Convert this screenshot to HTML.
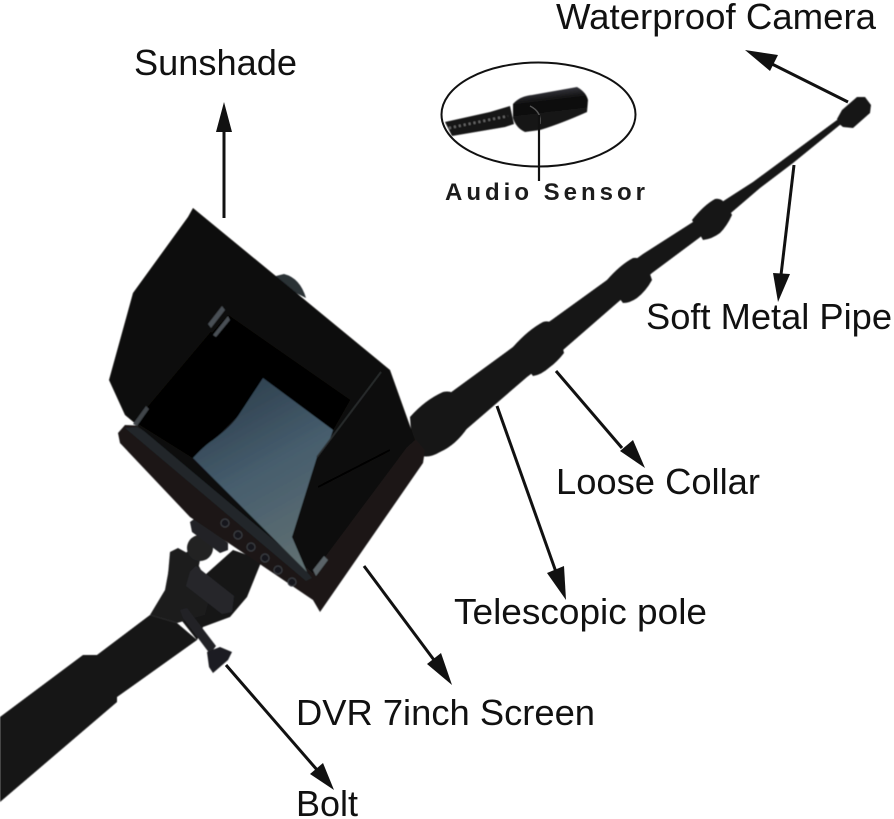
<!DOCTYPE html>
<html><head><meta charset="utf-8"><style>
html,body{margin:0;padding:0;background:#fff}
svg{display:block}
text{font-family:"Liberation Sans",sans-serif;font-size:36px;fill:#111}
</style></head><body>
<svg width="894" height="819" viewBox="0 0 894 819" xmlns="http://www.w3.org/2000/svg">
<defs>
<linearGradient id="scr" x1="0.2" y1="0" x2="0.6" y2="1">
<stop offset="0" stop-color="#2b3c4a"/><stop offset="0.5" stop-color="#465d6d"/><stop offset="1" stop-color="#5f6f72"/>
</linearGradient>
<linearGradient id="cam" x1="0.2" y1="0" x2="0.4" y2="1">
<stop offset="0" stop-color="#4a4a55"/><stop offset="0.35" stop-color="#0e0e0e"/><stop offset="1" stop-color="#181818"/>
</linearGradient>
<filter id="soft" x="-5%" y="-5%" width="110%" height="110%"><feGaussianBlur stdDeviation="0.5"/></filter>
</defs>
<rect width="894" height="819" fill="#fff"/>

<g filter="url(#soft)">
<!-- telescopic pole, continuous -->
<path d="M420 415 L513 347 L553 319 L607 280 L643 254 L693 222 L725 200 L753 182 L837 120 L841 124 L793 163 L760 188 L732 212 L699 238 L652 273 L617 303 L563 350 L527 377 L440 452Z" fill="#121212"/>
<!-- collars -->
<path d="M410 417 Q425 400 443 392 Q452 390 456 396 Q465 410 468 427 Q456 445 440 452 Q430 458 422 456 L412 445Z" fill="#181818"/>
<path d="M513 347 Q528 330 543 322 Q550 320 554 325 Q561 338 564 353 Q557 362 550 367 Q541 375 533 376 Q522 362 513 347Z" fill="#171717"/>
<path d="M607 280 Q620 265 633 258 Q640 257 644 262 Q649 270 652 280 Q646 291 637 298 Q630 303 623 303 Q614 292 607 280Z" fill="#171717"/>
<path d="M692 220 Q704 205 715 199 Q720 198 724 202 Q729 208 732 215 Q727 226 720 233 Q712 239 703 240 Q697 230 692 220Z" fill="#161616"/>
<!-- camera head -->
<path d="M837 119 L842 110 L857 97 L865 97 L871 105 L870 113 L853 128 L843 127 L838 123Z" fill="#171717"/>

<!-- back knob -->
<path d="M272 277 L284 274 Q300 278 306 298 L290 290Z" fill="#2b3036"/>

<!-- lower handle and mount -->
<path d="M205 575 L233 550 L262 560 L247 597 L230 617 L203 627 L197 640 L175 612Z" fill="#171717"/>
<path d="M0 717 L83 655 L97 655 L150 615 L177 623 L197 640 L117 697 L117 702 L0 802Z" fill="#121212"/>
<path d="M150 615 L165 590 L170 563 L190 550 L212 590 L205 615 L177 623Z" fill="#1a1a1c"/>
<path d="M170 552 L178 548 L200 560 L196 580 L178 592 L168 575Z" fill="#1c1d1f"/>
<path d="M190 572 L196 566 L234 596 L232 612 L222 614 L186 586Z" fill="#26282c"/>
<circle cx="200" cy="548" r="13" fill="#202224"/>
<path d="M180 610 L187 608 L216 646 L210 654 L183 618Z" fill="#232427"/>
<path d="M220 647 L232 652 L228 660 L213 673 L209 667 L207 652 L212 650Z" fill="#1e1f21"/>
<path d="M190 522 L197 517 L228 543 L228 550 L220 553 L192 532Z" fill="#222426"/>

<!-- device body -->
<path d="M118 433 L125 425 L415 438 L425 450 L423 463 L320 612 L313 600 L190 517 L120 443Z" fill="#1a1918"/>
<path d="M137 427 L193 458 L307 572 L312 578 L306 581 L125 428Z" fill="#20262a"/>

<!-- hood -->
<path d="M188 217 L193 208 L390 370 L415 440 L407 447 L313 573 L125 415 L109 380 L133 293Z" fill="#090807"/>
<path d="M212 333 L228 315 L350 400 L333 430 L263 378 L240 413 L213 440 L193 458 L137 423Z" fill="#030303"/>
<!-- screen -->
<path d="M263 378 L333 430 L313 490 L292 537 L307 572 L193 458 Q205 445 213 440 Q233 425 240 413Z" fill="url(#scr)"/>
<!-- right flap -->
<path d="M380 373 L407 447 L313 573 L292 537 L317 457Z" fill="#100f0e"/>
<path d="M318 487 L390 450" stroke="#030303" stroke-width="2"/>
<path d="M381 372 L317 457" stroke="#2e3133" stroke-width="1.5"/>
<path d="M212 333 L137 422" stroke="#040404" stroke-width="3"/>
<path d="M208 324 L222 306 L225 310 L211 328Z M213 335 L228 316 L230 320 L216 337Z" fill="#4a4f55"/>
<path d="M133 424 L146 406 L149 409 L137 426Z" fill="#3f4448"/>
<path d="M313 570 L324 556 L328 560 L316 576Z" fill="#5a6468"/>
<!-- buttons -->
<g fill="#15161a" stroke="#3b3d42" stroke-width="1.2">
<circle cx="225" cy="523" r="4"/><circle cx="238" cy="535" r="4"/><circle cx="251" cy="547" r="4"/><circle cx="265" cy="558" r="4"/><circle cx="278" cy="570" r="4"/><circle cx="292" cy="582" r="4"/>
</g>
</g>

<!-- audio sensor inset -->
<ellipse cx="538.5" cy="114.5" rx="97" ry="52" fill="#fff" stroke="#111" stroke-width="2"/>
<g filter="url(#soft)">
<path d="M445 122 L490 112 L510 106 L514 124 L505 127 L452 136Z" fill="#161616"/>
<path d="M449 128 L508 116" stroke="#666" stroke-width="2.5" stroke-dasharray="2 3" fill="none"/>
<path d="M513 104 Q520 96 532 95 L577 87 Q586 92 588 100 L587 112 Q560 124 540 130 L525 132 Q516 128 513 118Z" fill="url(#cam)"/>
</g>
<path d="M530 106 Q542 112 540 124" fill="none" stroke="#555" stroke-width="1.5"/>
<path d="M539 115 L539 181" stroke="#111" stroke-width="2.2"/>
<text x="445" y="200" textLength="200" lengthAdjust="spacing" style="font-size:24px;font-weight:bold;fill:#1c1c1c">Audio Sensor</text>

<!-- arrows -->
<g stroke="#111" stroke-width="3">
<path d="M224 218 L224 125"/>
<path d="M848 102 L770 63"/>
<path d="M794 165 L781 275"/>
<path d="M556 371 L622 448"/>
<path d="M497 406 L556 572"/>
<path d="M364 566 L434 660"/>
<path d="M226 665 L318 771"/>
</g>
<g fill="#111">
<path d="M224 102 L232 132 L216 132Z"/>
<path d="M745 50 L778 55 L770 71Z"/>
<path d="M778 302 L773 273 L790 274Z"/>
<path d="M645 468 L620 451 L633 440Z"/>
<path d="M566 600 L547 573 L564 566Z"/>
<path d="M452 685 L427 664 L441 653Z"/>
<path d="M334 790 L310 774 L323 763Z"/>
</g>

<!-- labels -->
<text x="134" y="75" textLength="163" lengthAdjust="spacingAndGlyphs">Sunshade</text>
<text x="556" y="29" textLength="320" lengthAdjust="spacingAndGlyphs">Waterproof Camera</text>
<text x="646" y="329" textLength="246" lengthAdjust="spacingAndGlyphs">Soft Metal Pipe</text>
<text x="556" y="494" textLength="204" lengthAdjust="spacingAndGlyphs">Loose Collar</text>
<text x="454" y="624" textLength="253" lengthAdjust="spacingAndGlyphs">Telescopic pole</text>
<text x="296" y="725" textLength="299" lengthAdjust="spacingAndGlyphs">DVR 7inch Screen</text>
<text x="296" y="816" textLength="62" lengthAdjust="spacingAndGlyphs">Bolt</text>
</svg>
</body></html>
